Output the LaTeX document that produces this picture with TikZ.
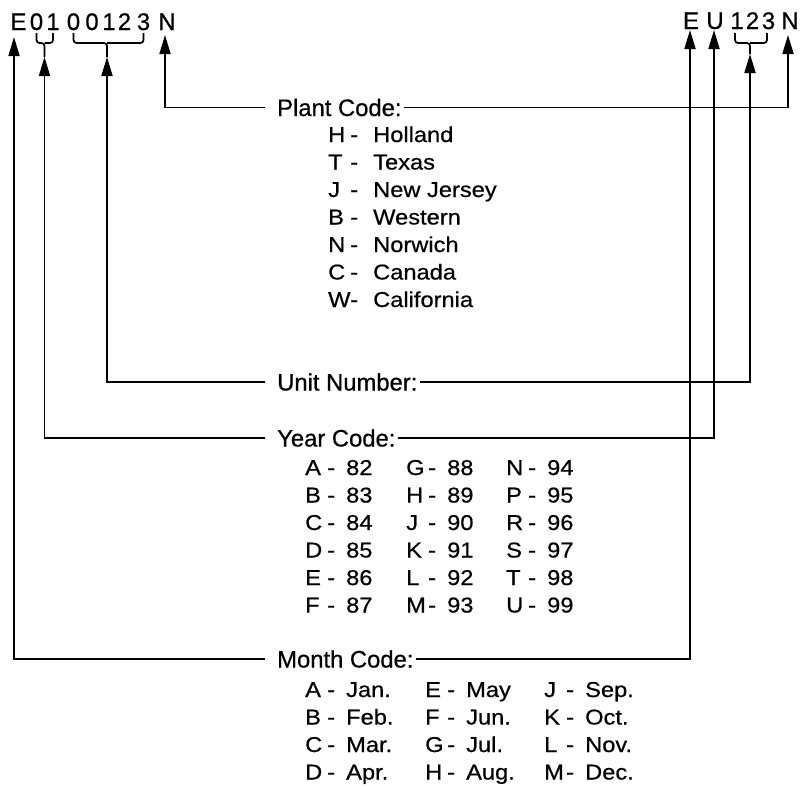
\documentclass[tikz,border=0pt]{standalone}
\usepackage{fontspec}
\setmainfont[FakeBold=0.6]{Liberation Sans}
\newfontfamily\listfont[FakeStretch=1.1,FakeBold=0.6]{Liberation Sans}
\usetikzlibrary{arrows.meta}

\begin{document}
\begin{tikzpicture}[x=1pt,y=-1pt]

%
% Styles
%
\tikzstyle{code}  = [inner sep=0pt, anchor=base, font=\fontsize{24}{24}\selectfont]
\tikzstyle{head}  = [inner sep=0pt, anchor=west, font=\fontsize{23.8}{24}\selectfont]
\tikzstyle{table} = [inner sep=0pt, anchor=base west, font=\listfont\fontsize{21.5}{27.5}\selectfont]
\tikzstyle{edge}  = [line width=1.7pt]
\tikzstyle{tip}   = [edge, -{Triangle[width=11pt,length=19pt]}]
\tikzstyle{brace} = [edge, rounded corners=3pt]

\useasboundingbox (0,0) rectangle (800,788);

% left code
\node[code] (l1) at ( 18.5, 30) {E};
\node[code] (l2) at ( 36.5, 30) {0};
\node[code] (l3) at ( 53.0, 30) {1};
\node[code] (l4) at ( 73.5, 30) {0};
\node[code] (l5) at ( 92.0, 30) {0};
\node[code] (l6) at (109.0, 30) {1};
\node[code] (l7) at (124.5, 30) {2};
\node[code] (l8) at (143.5, 30) {3};
\node[code] (l9) at (167.0, 30) {N};

% right code
\node[code] (r1) at (691.0, 29) {E};
\node[code] (r2) at (715.0, 29) {U};
\node[code] (r3) at (737.0, 29) {1};
\node[code] (r4) at (752.5, 29) {2};
\node[code] (r5) at (768.5, 29) {3};
\node[code] (r6) at (790.0, 29) {N};

% braces
\draw[brace] (36.5,33) |- (44.5,43) -- (44.5,57);
\draw[brace] (53.0,33) |- (44.5,43);
\draw[brace] (73.5,33) |- (107,43) -- (107,57);
\draw[brace] (143.5,33) |- (107,43);
\draw[brace] (735,33) |- (750,43) -- (750,54);
\draw[brace] (767,33) |- (750,43);

% arrow tips
\coordinate (a1) at ( 14, 37);
\coordinate (a2) at ( 44.5, 57);
\coordinate (a3) at (107, 57);
\coordinate (a4) at (165, 35);
\coordinate (b1) at (690, 30);
\coordinate (b2) at (714, 30);
\coordinate (b3) at (750, 54);
\coordinate (b4) at (788, 35);

% headings
\node[head] (plant) at (277,107.5) {Plant Code:};
\node[head] (unit)  at (277,382)   {Unit Number:};
\node[head] (year)  at (277,438)   {Year Code:};
\node[head] (month) at (277,659)   {Month Code:};

% lists
\node[table] (plants) at (328,142) {\begin{tabular}[t]{@{}p{22pt}@{}p{23pt}@{}l@{}}
H & - & Holland \\
T & - & Texas \\
J & - & New Jersey \\
B & - & Western \\
N & - & Norwich \\
C & - & Canada \\
W & - & California
\end{tabular}};

\node[table] (years) at (305,475) {\begin{tabular}[t]{@{}p{22pt}@{}p{19pt}@{}p{60pt}@{}p{22pt}@{}p{19pt}@{}p{59pt}@{}p{22pt}@{}p{19pt}@{}l@{}}
A & - & 82 & G & - & 88 & N & - & 94 \\
B & - & 83 & H & - & 89 & P & - & 95 \\
C & - & 84 & J & - & 90 & R & - & 96 \\
D & - & 85 & K & - & 91 & S & - & 97 \\
E & - & 86 & L & - & 92 & T & - & 98 \\
F & - & 87 & M & - & 93 & U & - & 99
\end{tabular}};

\node[table] (months) at (305,697) {\begin{tabular}[t]{@{}p{22pt}@{}p{19pt}@{}p{79pt}@{}p{22pt}@{}p{19pt}@{}p{78pt}@{}p{22pt}@{}p{19pt}@{}l@{}}
A & - & Jan. & E & - & May & J & - & Sep. \\
B & - & Feb. & F & - & Jun. & K & - & Oct. \\
C & - & Mar. & G & - & Jul. & L & - & Nov. \\
D & - & Apr. & H & - & Aug. & M & - & Dec.
\end{tabular}};

% connectors
\draw[tip] ([xshift=-12pt]plant.west) -| (a4);
\draw[tip] ([xshift=-12pt]unit.west)  -| (a3);
\draw[tip] ([xshift=-12pt]year.west)  -| (a2);
\draw[tip] ([xshift=-12pt]month.west) -| (a1);
\draw[tip] ([xshift=2pt]plant.east) -| (b4);
\draw[tip] ([xshift=2pt]unit.east)  -| (b3);
\draw[tip] ([xshift=2pt]year.east)  -| (b2);
\draw[tip] ([xshift=2pt]month.east) -| (b1);

\end{tikzpicture}
\end{document}
